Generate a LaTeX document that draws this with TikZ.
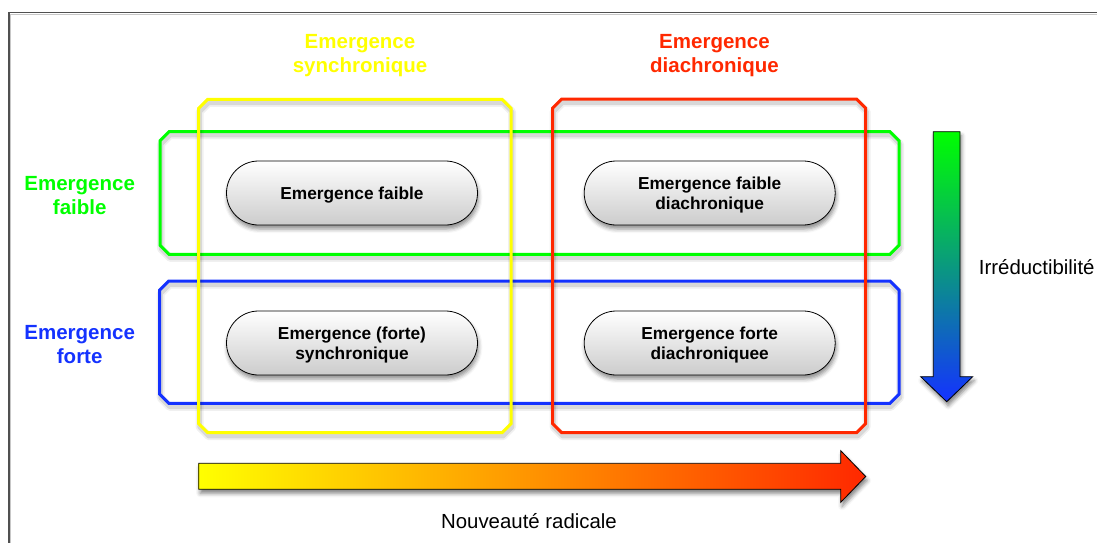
\documentclass[tikz,border=0pt]{standalone}
\usepackage{fontspec}
\setmainfont{Liberation Sans}
\usetikzlibrary{shapes.misc,shadows.blur}
\definecolor{cyel}{RGB}{255,255,0}
\definecolor{cgreen}{RGB}{0,255,0}
\definecolor{cred}{RGB}{255,40,0}
\definecolor{cblue}{RGB}{20,50,255}
\definecolor{corange}{RGB}{255,150,0}
\definecolor{cteal}{RGB}{0,128,140}
\definecolor{cframe}{RGB}{80,80,80}
% #1 colour, #2 x1, #3 y1, #4 x2, #5 y2 (chamfer 9)
\newcommand\grpbox[5]{%
  \draw[black, draw opacity=0.06, line width=8pt, line join=round, shift={(1,3.5)}]
    ({#2+9},#3) -- ({#4-9},#3) -- (#4,{#3+9}) -- (#4,{#5-9}) -- ({#4-9},#5)
    -- ({#2+9},#5) -- (#2,{#5-9}) -- (#2,{#3+9}) -- cycle;
  \draw[black, draw opacity=0.10, line width=4.5pt, line join=round, shift={(1,3.5)}]
    ({#2+9},#3) -- ({#4-9},#3) -- (#4,{#3+9}) -- (#4,{#5-9}) -- ({#4-9},#5)
    -- ({#2+9},#5) -- (#2,{#5-9}) -- (#2,{#3+9}) -- cycle;
  \draw[#1, line width=3pt]
    ({#2+9},#3) -- ({#4-9},#3) -- (#4,{#3+9}) -- (#4,{#5-9}) -- ({#4-9},#5)
    -- ({#2+9},#5) -- (#2,{#5-9}) -- (#2,{#3+9}) -- cycle;
}
\begin{document}
\begin{tikzpicture}[x=1pt,y=-1pt,
  pill/.style={rounded rectangle, draw=black, line width=0.8pt, top color=white, bottom color=black!20,
    minimum width=251pt, minimum height=64pt, inner sep=0pt,
    blur shadow={shadow xshift=1pt, shadow yshift=-4pt, shadow blur radius=4pt, shadow opacity=45}},
  pilltext/.style={align=center, inner sep=0pt, font=\fontsize{17.3}{20}\selectfont\bfseries},
  hdr/.style={align=center, inner sep=0pt, font=\fontsize{20.5}{24.3}\selectfont\bfseries},
  axlabel/.style={inner sep=0pt, font=\fontsize{20.4}{24}\selectfont},
  bigarrow/.style={draw=black, line width=0.8pt,
    blur shadow={shadow xshift=1.5pt, shadow yshift=-4pt, shadow blur radius=4pt, shadow opacity=50}}
]
\useasboundingbox (0,0) rectangle (1097,543);
% frame
\draw[black!22, line width=1pt] (10.8,543) -- (10.8,14.3) -- (1097,14.3);
\draw[cframe, line width=1.4pt] (9,543) -- (9,12.6) -- (1097,12.6);
% groups
\grpbox{cgreen}{160}{131.7}{899}{254.3}
\grpbox{cblue}{159.7}{281}{899}{403.3}
\grpbox{cyel}{198.7}{99.3}{511}{432.7}
\grpbox{cred}{552.7}{99}{865.5}{432.7}
% pills
\node[pill] (p1) at (352,193) {};
\node[pill] (p2) at (709.7,193) {};
\node[pill] (p3) at (352,343) {};
\node[pill] (p4) at (709.7,343) {};
\node[pilltext] (t1) at (352,194.7) {Emergence faible};
\node[pilltext] (t2) at (709.7,194.7) {Emergence faible\\diachronique};
\node[pilltext] (t3) at (352,344.7) {Emergence (forte)\\synchronique};
\node[pilltext] (t4) at (709.7,344.7) {Emergence forte\\diachroniquee};
% headers
\node[hdr, text=cyel] (hsync) at (360,55.6) {Emergence\\synchronique};
\node[hdr, text=cred] (hdia) at (714.5,55.6) {Emergence\\diachronique};
\node[hdr, text=cgreen] (hfaible) at (79.7,195.4) {Emergence\\faible};
\node[hdr, text=cblue] (hforte) at (79.7,344.4) {Emergence\\forte};
% arrows
\draw[bigarrow, left color=cyel, middle color=corange, right color=cred]
  (198.7,463.3) -- (840.7,463.3) -- (840.7,450.7) -- (865.7,476.5) -- (840.7,502.3)
  -- (840.7,489.3) -- (198.7,489.3) -- cycle;
\draw[bigarrow, top color=cgreen, middle color=cteal, bottom color=cblue]
  (933.3,131.7) -- (960,131.7) -- (960,376.7) -- (972.7,376.7) -- (946.7,401.7)
  -- (920.7,376.7) -- (933.3,376.7) -- cycle;
% axis labels
\node[axlabel, anchor=base west] (irr) at (978.7,274.3) {Irréductibilité};
\node[axlabel, anchor=base] (nouv) at (529,528) {Nouveauté radicale};
\end{tikzpicture}
\end{document}
